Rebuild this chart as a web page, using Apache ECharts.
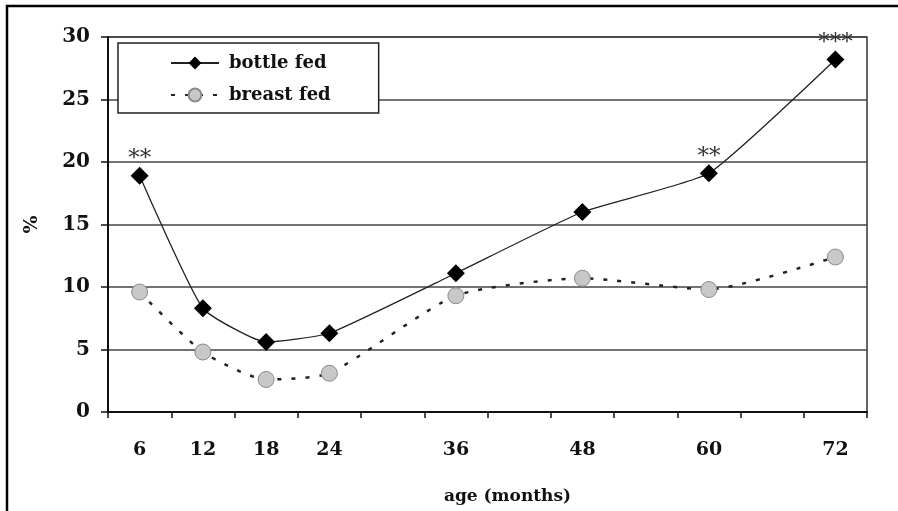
<!DOCTYPE html>
<html>
<head>
<meta charset="utf-8">
<script src="https://cdn.jsdelivr.net/npm/echarts@6/dist/echarts.min.js"></script>
<style>html,body{margin:0;padding:0;background:#fff}#c{width:898px;height:511px}</style>
</head>
<body>
<div id="c"></div>
<script>
// Category slots along the age axis (months), every 6 months
var ageCategories = ['6','12','18','24','30','36','42','48','54','60','66','72'];
// Ages that were measured (and labelled)
var ages = ['6','12','18','24','36','48','60','72'];
var bottleFed = [18.9, 8.3, 5.6, 6.3, 11.1, 16.0, 19.1, 28.2];
var breastFed = [9.6, 4.8, 2.6, 3.1, 9.3, 10.7, 9.8, 12.4];
var significance = ['**', '', '', '', '', '', '**', '***'];
var yTicks = [0, 5, 10, 15, 20, 25, 30];

function align(values) {
  return ageCategories.map(function (c) {
    var i = ages.indexOf(c);
    return i >= 0 ? values[i] : null;
  });
}
var sigAligned = align(significance).map(function (s) { return s || ''; });
var serif = '"DejaVu Serif", serif';

var chart = echarts.init(document.getElementById('c'));
chart.setOption({
  animation: false,
  backgroundColor: '#fff',
  grid: { left: 108, right: 31, top: 37, bottom: 99, show: true, borderColor: '#333', borderWidth: 1.5 },
  legend: {
    orient: 'vertical', left: 118, top: 43,
    padding: [11, 48, 9, 52], itemGap: 14,
    itemWidth: 48, itemHeight: 16,
    backgroundColor: '#fff', borderColor: '#222', borderWidth: 1.5,
    textStyle: { fontFamily: serif, fontWeight: 'bold', fontSize: 18, color: '#111', padding: [0, 0, 0, 5] },
    data: ['bottle fed', 'breast fed']
  },
  xAxis: {
    type: 'category', data: ageCategories, boundaryGap: true,
    name: 'age (months)', nameLocation: 'middle', nameGap: 76,
    nameTextStyle: { fontFamily: serif, fontWeight: 'bold', fontSize: 17, color: '#111', padding: [0, 0, 0, 40] },
    axisLine: { lineStyle: { color: '#111', width: 2 } },
    axisTick: { show: true, interval: 0, length: 6, lineStyle: { color: '#111', width: 1.5 } },
    axisLabel: {
      interval: 0, margin: 29, fontFamily: serif, fontWeight: 'bold', fontSize: 19, color: '#111',
      formatter: function (v) { return ages.indexOf(v) >= 0 ? v : ''; }
    },
    splitLine: { show: false }
  },
  yAxis: {
    type: 'value', min: yTicks[0], max: yTicks[yTicks.length - 1], interval: 5,
    name: '%', nameLocation: 'middle', nameGap: 66, nameRotate: 90,
    nameTextStyle: { fontFamily: serif, fontWeight: 'bold', fontSize: 19, color: '#111' },
    axisLine: { show: true, lineStyle: { color: '#111', width: 2 } },
    axisTick: { show: true, length: 7, lineStyle: { color: '#111', width: 1.5 } },
    axisLabel: { margin: 18, fontFamily: serif, fontWeight: 'bold', fontSize: 20, color: '#111' },
    splitLine: { show: true, lineStyle: { color: '#444', width: 1.5 } }
  },
  series: [
    {
      name: 'bottle fed', type: 'line', data: align(bottleFed), connectNulls: true, smooth: 0.15,
      symbol: 'diamond', symbolSize: 18,
      itemStyle: { color: '#000' },
      lineStyle: { color: '#222', width: 1.3 },
      label: {
        show: true, position: 'top', distance: -4,
        fontFamily: serif, fontSize: 23, color: '#333',
        formatter: function (p) { return sigAligned[p.dataIndex]; }
      },
      z: 3
    },
    {
      name: 'breast fed', type: 'line', data: align(breastFed), connectNulls: true, smooth: 0.2,
      symbol: 'circle', symbolSize: 16,
      itemStyle: { color: '#c8c8c8', borderColor: '#8a8a8a', borderWidth: 1 },
      lineStyle: { color: '#222', width: 2.5, type: [4, 10] },
      z: 2
    }
  ],
  graphic: [
    { type: 'polyline', shape: { points: [[7, 511], [7, 6], [898, 6]] }, style: { stroke: '#000', lineWidth: 2.5, fill: null } }
  ]
});
</script>
</body>
</html>
